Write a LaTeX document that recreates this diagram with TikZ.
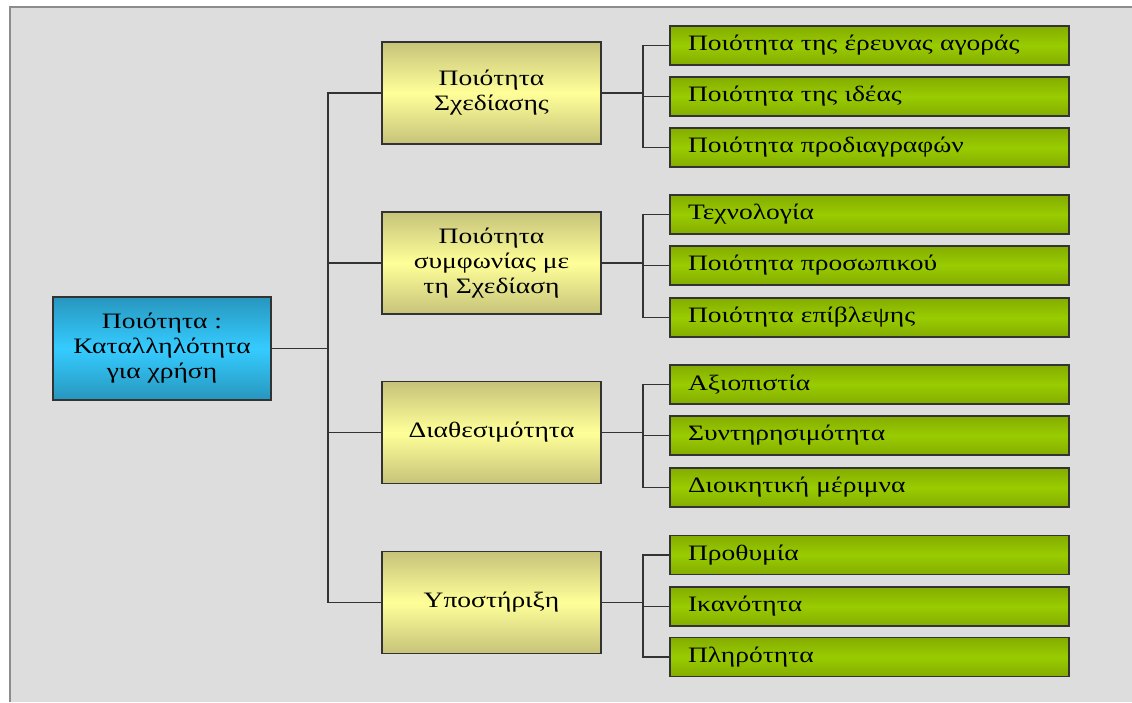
\documentclass[tikz,border=0pt]{standalone}
\usepackage{fontspec}
\setmainfont[FakeStretch=1.25]{Liberation Serif}
\usetikzlibrary{positioning}

\definecolor{bggray}{HTML}{DDDDDD}
\definecolor{framegray}{HTML}{8C8C8C}
\definecolor{linegray}{HTML}{333333}
\definecolor{cyantop}{HTML}{2796BE}
\definecolor{cyanmid}{HTML}{35CCFF}
\definecolor{yeltop}{HTML}{C6C37A}
\definecolor{yelmid}{HTML}{FFFF99}
\definecolor{greentop}{HTML}{84AC00}
\definecolor{greenmid}{HTML}{99CC00}

\begin{document}
\begin{tikzpicture}[x=1pt, y=-1pt,
    font=\fontsize{22}{25}\selectfont,
    box/.style = {draw=linegray, line width=1.4pt, inner sep=0pt},
    root/.style = {box, minimum width=218pt, minimum height=103pt,
        top color=cyantop, bottom color=cyantop, middle color=cyanmid,
        align=center},
    aspect/.style = {box, minimum width=219pt, minimum height=102pt,
        top color=yeltop, bottom color=yeltop, middle color=yelmid,
        align=center},
    leaf/.style = {box, minimum width=399pt, minimum height=39pt,
        inner xsep=18pt, text width=363pt, align=left,
        top color=greentop, bottom color=greentop, middle color=greenmid},
    link/.style = {draw=linegray, line width=1.3pt}]

    % frame
    \useasboundingbox (0,0) rectangle (1132,702);
    \fill[white] (0,0) rectangle (1132,702);
    \fill[bggray] (9,6) rectangle (1132,702);
    \draw[framegray, line width=2pt] (10,702) -- (10,7) -- (1132,7);

    \node (q) [root] at (162,348.5) {Ποιότητα :\\Καταλληλότητα\\για χρήση};

    \node (a1) [aspect] at (491.5,93)    {Ποιότητα\\Σχεδίασης};
    \node (a2) [aspect] at (491.5,263)   {Ποιότητα\\συμφωνίας με\\τη Σχεδίαση};
    \node (a3) [aspect] at (491.5,432.5) {Διαθεσιμότητα};
    \node (a4) [aspect] at (491.5,602.5) {Υποστήριξη};

    \node (l11) [leaf] at (869.5,45.5)  {Ποιότητα της έρευνας αγοράς};
    \node (l12) [leaf] at (869.5,96.5)  {Ποιότητα της ιδέας};
    \node (l13) [leaf] at (869.5,147.5) {Ποιότητα προδιαγραφών};

    \node (l21) [leaf] at (869.5,214.5) {Τεχνολογία};
    \node (l22) [leaf] at (869.5,265.5) {Ποιότητα προσωπικού};
    \node (l23) [leaf] at (869.5,317.5) {Ποιότητα επίβλεψης};

    \node (l31) [leaf] at (869.5,384.5) {Αξιοπιστία};
    \node (l32) [leaf] at (869.5,435.5) {Συντηρησιμότητα};
    \node (l33) [leaf] at (869.5,487.5) {Διοικητική μέριμνα};

    \node (l41) [leaf] at (869.5,555)   {Προθυμία};
    \node (l42) [leaf] at (869.5,606.5) {Ικανότητα};
    \node (l43) [leaf] at (869.5,657)   {Πληρότητα};

    % junctions
    \coordinate (rj) at (328,348.5);
    \coordinate (j1) at (643,93);
    \coordinate (j2) at (643,263);
    \coordinate (j3) at (643,432.5);
    \coordinate (j4) at (643,602.5);

    \draw [link] (q) -- (rj);
    \foreach \a in {1,2,3,4}
        \draw [link] (rj) |- (a\a);
    \foreach \a in {1,2,3,4} {
        \draw [link] (a\a) -- (j\a);
        \foreach \b in {1,2,3}
            \draw [link] (j\a) |- (l\a\b);
    }
\end{tikzpicture}
\end{document}
